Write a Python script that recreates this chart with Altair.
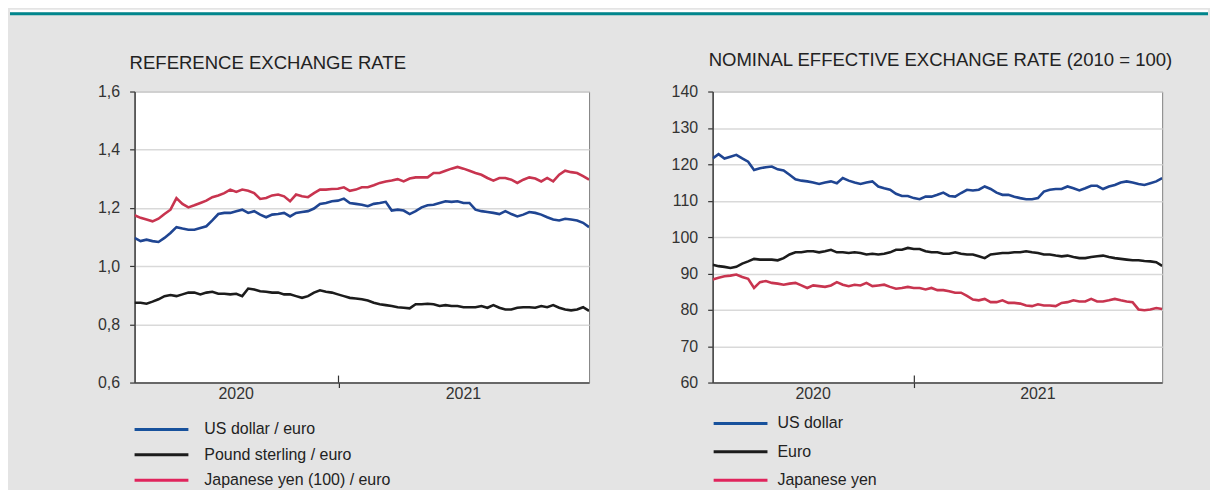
import altair as alt
import pandas as pd

FONT = "Liberation Sans"
START = "2020-04-05"
END = "2021-11-30"

# ---- Reference exchange rate (left panel) ----
usd_eur = [1.097, 1.086, 1.091, 1.086, 1.083, 1.097, 1.114, 1.134, 1.129, 1.125, 1.125, 1.131, 1.137,
           1.157, 1.179, 1.183, 1.183, 1.189, 1.194, 1.183, 1.189, 1.177, 1.168, 1.177, 1.179, 1.183,
           1.171, 1.183, 1.186, 1.189, 1.198, 1.214, 1.217, 1.223, 1.225, 1.232, 1.217, 1.214, 1.211,
           1.206, 1.214, 1.217, 1.221, 1.191, 1.194, 1.191, 1.179, 1.189, 1.202, 1.209, 1.211, 1.217,
           1.223, 1.221, 1.223, 1.217, 1.217, 1.194, 1.189, 1.186, 1.183, 1.179, 1.189, 1.179, 1.171,
           1.177, 1.186, 1.183, 1.177, 1.168, 1.160, 1.157, 1.163, 1.160, 1.157, 1.149, 1.134]
gbp_eur = [0.874, 0.874, 0.871, 0.878, 0.886, 0.897, 0.901, 0.897, 0.903, 0.909, 0.909, 0.903, 0.909,
           0.912, 0.905, 0.905, 0.903, 0.905, 0.897, 0.923, 0.920, 0.914, 0.912, 0.909, 0.909, 0.903,
           0.903, 0.897, 0.891, 0.897, 0.909, 0.917, 0.912, 0.909, 0.903, 0.897, 0.891, 0.889, 0.886,
           0.882, 0.874, 0.869, 0.866, 0.863, 0.859, 0.857, 0.855, 0.869, 0.869, 0.871, 0.869, 0.863,
           0.866, 0.863, 0.863, 0.859, 0.859, 0.859, 0.863, 0.857, 0.866, 0.857, 0.851, 0.851, 0.857,
           0.859, 0.859, 0.857, 0.863, 0.859, 0.866, 0.857, 0.851, 0.848, 0.851, 0.859, 0.846]
jpy_eur = [1.175, 1.166, 1.160, 1.154, 1.163, 1.179, 1.194, 1.234, 1.214, 1.202, 1.209, 1.217, 1.225,
           1.237, 1.243, 1.251, 1.263, 1.255, 1.263, 1.259, 1.251, 1.231, 1.234, 1.243, 1.246, 1.240,
           1.223, 1.246, 1.240, 1.237, 1.251, 1.263, 1.263, 1.265, 1.266, 1.271, 1.259, 1.263, 1.271,
           1.271, 1.278, 1.286, 1.291, 1.294, 1.299, 1.291, 1.301, 1.305, 1.305, 1.305, 1.320, 1.320,
           1.328, 1.335, 1.341, 1.335, 1.328, 1.320, 1.314, 1.303, 1.294, 1.303, 1.303, 1.297, 1.286,
           1.297, 1.305, 1.301, 1.291, 1.303, 1.291, 1.314, 1.328, 1.323, 1.320, 1.309, 1.297]

# ---- Nominal effective exchange rate (right panel) ----
neer_usd = [121.6, 122.8, 121.6, 122.1, 122.6, 121.6, 120.7, 118.4, 118.9, 119.2, 119.4, 118.6, 118.3,
            117.1, 115.9, 115.5, 115.3, 115.0, 114.6, 115.0, 115.3, 114.8, 116.2, 115.5, 115.0, 114.6,
            115.0, 115.3, 113.9, 113.4, 113.0, 111.9, 111.3, 111.3, 110.7, 110.4, 111.1, 111.1, 111.6,
            112.2, 111.3, 111.1, 112.1, 113.0, 112.8, 113.0, 113.9, 113.2, 112.2, 111.6, 111.6, 111.1,
            110.7, 110.4, 110.4, 110.7, 112.5, 113.0, 113.2, 113.2, 113.9, 113.4, 112.8, 113.4, 114.1,
            114.1, 113.2, 113.9, 114.3, 115.0, 115.3, 115.0, 114.6, 114.3, 114.8, 115.3, 116.2]
neer_eur = [92.4, 92.0, 91.8, 91.5, 91.8, 92.7, 93.3, 94.0, 93.8, 93.8, 93.8, 93.6, 94.2,
            95.2, 95.8, 95.8, 96.1, 96.1, 95.8, 96.1, 96.5, 95.8, 95.8, 95.6, 95.8, 95.6,
            95.2, 95.4, 95.2, 95.4, 95.8, 96.5, 96.5, 97.0, 96.7, 96.7, 96.1, 95.8, 95.8,
            95.4, 95.4, 95.8, 95.4, 95.2, 95.2, 94.7, 94.2, 95.2, 95.4, 95.6, 95.6, 95.8,
            95.8, 96.1, 95.8, 95.6, 95.2, 95.2, 94.9, 94.7, 94.9, 94.5, 94.2, 94.2, 94.5,
            94.7, 94.9, 94.5, 94.2, 94.0, 93.8, 93.6, 93.6, 93.4, 93.3, 93.1, 92.1]
neer_jpy = [88.3, 88.8, 89.2, 89.4, 89.7, 89.0, 88.5, 86.0, 87.6, 87.9, 87.4, 87.2, 86.9,
            87.2, 87.4, 86.7, 86.0, 86.7, 86.5, 86.3, 86.7, 87.6, 86.9, 86.5, 86.9, 86.7,
            87.4, 86.5, 86.7, 86.9, 86.3, 85.8, 86.0, 86.3, 86.0, 86.0, 85.6, 86.0, 85.4,
            85.4, 85.1, 84.7, 84.7, 83.8, 82.8, 82.6, 83.0, 82.1, 82.1, 82.6, 81.9, 81.9,
            81.7, 81.2, 81.0, 81.5, 81.2, 81.2, 81.0, 81.9, 82.1, 82.6, 82.3, 82.3, 83.0,
            82.3, 82.3, 82.6, 83.0, 82.6, 82.3, 82.1, 80.1, 79.9, 80.1, 80.5, 80.2]

left_title = "REFERENCE EXCHANGE RATE"
right_title = "NOMINAL EFFECTIVE EXCHANGE RATE (2010 = 100)"
left_names = ["US dollar / euro", "Pound sterling / euro", "Japanese yen (100) / euro"]
right_names = ["US dollar", "Euro", "Japanese yen"]
line_colors = ["#1f4592", "#1c1c1c", "#c8344f"]
legend_colors = ["#17519c", "#1c1c1c", "#e0245c"]
left_ticks = [0.6, 0.8, 1.0, 1.2, 1.4, 1.6]
right_ticks = [60, 70, 80, 90, 100, 110, 120, 130, 140]
year_labels = ["2020", "2021"]
year_label_dates = ["2020-08-18", "2021-06-16"]
year_boundary = "2021-01-01"


def frame(named):
    rows = []
    for name, vals in named:
        ds = pd.date_range(START, END, periods=len(vals))
        for d, v in zip(ds, vals):
            rows.append({"date": d, "value": v, "series": name})
    return pd.DataFrame(rows)


XSCALE = alt.Scale(domain=[alt.DateTime(year=2020, month=4, date=5),
                           alt.DateTime(year=2021, month=11, date=30)])
one = pd.DataFrame({"k": [0]})


def panel(df, names, ydom, yvals, label_expr, title, title_dx, title_y, leg_range, leg_x0,
          leg_x1, leg_tx, width, extra=None):
    lines = alt.Chart(df).mark_line(strokeWidth=2.6, clip=True).encode(
        x=alt.X("date:T", scale=XSCALE,
                axis=alt.Axis(values=[alt.DateTime(year=2021, month=1, date=1)], labels=False,
                              tickSize=5, tickColor="#333", tickWidth=1.2, domainColor="#444",
                              domainWidth=1.5, grid=False, title=None)),
        y=alt.Y("value:Q", scale=alt.Scale(domain=ydom, nice=False, zero=False),
                axis=alt.Axis(values=yvals, labelExpr=label_expr, title=None, grid=True,
                              gridColor="#d9d9d9", gridWidth=1.5, tickSize=5, tickColor="#333",
                              tickWidth=1.2, domainColor="#444", domainWidth=1.5,
                              labelPadding=10, labelFontSize=16, labelColor="#333",
                              labelFont=FONT)),
        color=alt.Color("series:N", scale=alt.Scale(domain=names, range=line_colors), legend=None),
    )
    ydf = pd.DataFrame({"date": pd.to_datetime(year_label_dates), "label": year_labels})
    years = alt.Chart(ydf).mark_text(fontSize=16, font=FONT, color="#333", baseline="middle",
                                     align="center").encode(
        x=alt.X("date:T", scale=XSCALE), y=alt.value(303), text="label:N")
    tdf = pd.DataFrame({"date": pd.to_datetime([year_boundary])})
    inner_tick = alt.Chart(tdf).mark_rule(color="#333", strokeWidth=1.2).encode(
        x=alt.X("date:T", scale=XSCALE), y=alt.value(285), y2=alt.value(292))
    ldf = pd.DataFrame({"series": names, "label": names})
    lscale = alt.Scale(type="point", domain=names, range=leg_range, padding=0)
    leg_lines = alt.Chart(ldf).mark_rule(strokeWidth=3).encode(
        x=alt.value(leg_x0), x2=alt.value(leg_x1),
        y=alt.Y("series:N", scale=lscale, axis=None),
        color=alt.Color("series:N", scale=alt.Scale(domain=names, range=legend_colors),
                        legend=None))
    leg_text = alt.Chart(ldf).mark_text(fontSize=16, font=FONT, color="#222", align="left",
                                        baseline="middle").encode(
        x=alt.value(leg_tx), y=alt.Y("series:N", scale=lscale, axis=None), text="label:N")
    ttl = alt.Chart(one).mark_text(text=title, fontSize=18.6, font=FONT, color="#222",
                                   align="left", baseline="alphabetic").encode(
        x=alt.value(title_dx), y=alt.value(title_y))
    layers = [lines, inner_tick, years, leg_lines, leg_text, ttl]
    if extra:
        layers = extra + layers
    return alt.layer(*layers).resolve_scale(y="independent", color="independent").properties(
        width=width, height=292)


white_strip = alt.Chart(one).mark_rule(color="white", strokeWidth=2.5).encode(
    x=alt.value(-125), x2=alt.value(1077), y=alt.value(-80.75))
teal = alt.Chart(one).mark_rule(color="#00868d", strokeWidth=3).encode(
    x=alt.value(-125), x2=alt.value(1077), y=alt.value(-78))

left = panel(frame(zip(left_names, [usd_eur, gbp_eur, jpy_eur])), left_names, [0.6, 1.6],
             left_ticks, "replace(format(datum.value, '.1f'), '.', ',')",
             left_title, -5, -23, [339, 390], 0, 54, 70, 456,
             extra=[white_strip, teal])
right = panel(frame(zip(right_names, [neer_usd, neer_eur, neer_jpy])), right_names, [60, 140],
              right_ticks, "format(datum.value, 'd')",
              right_title, -4, -26, [333, 390], 1, 55, 65, 451)

chart = alt.hconcat(left, right, spacing=124, bounds="flush").configure(
    background="#e4e4e4", padding={"left": 0, "right": 0, "top": 0, "bottom": 0}, font=FONT
).configure_view(fill="white", stroke="#808080", strokeWidth=1)

chart.save("out.html", embed_options={"renderer": "svg", "actions": False})
